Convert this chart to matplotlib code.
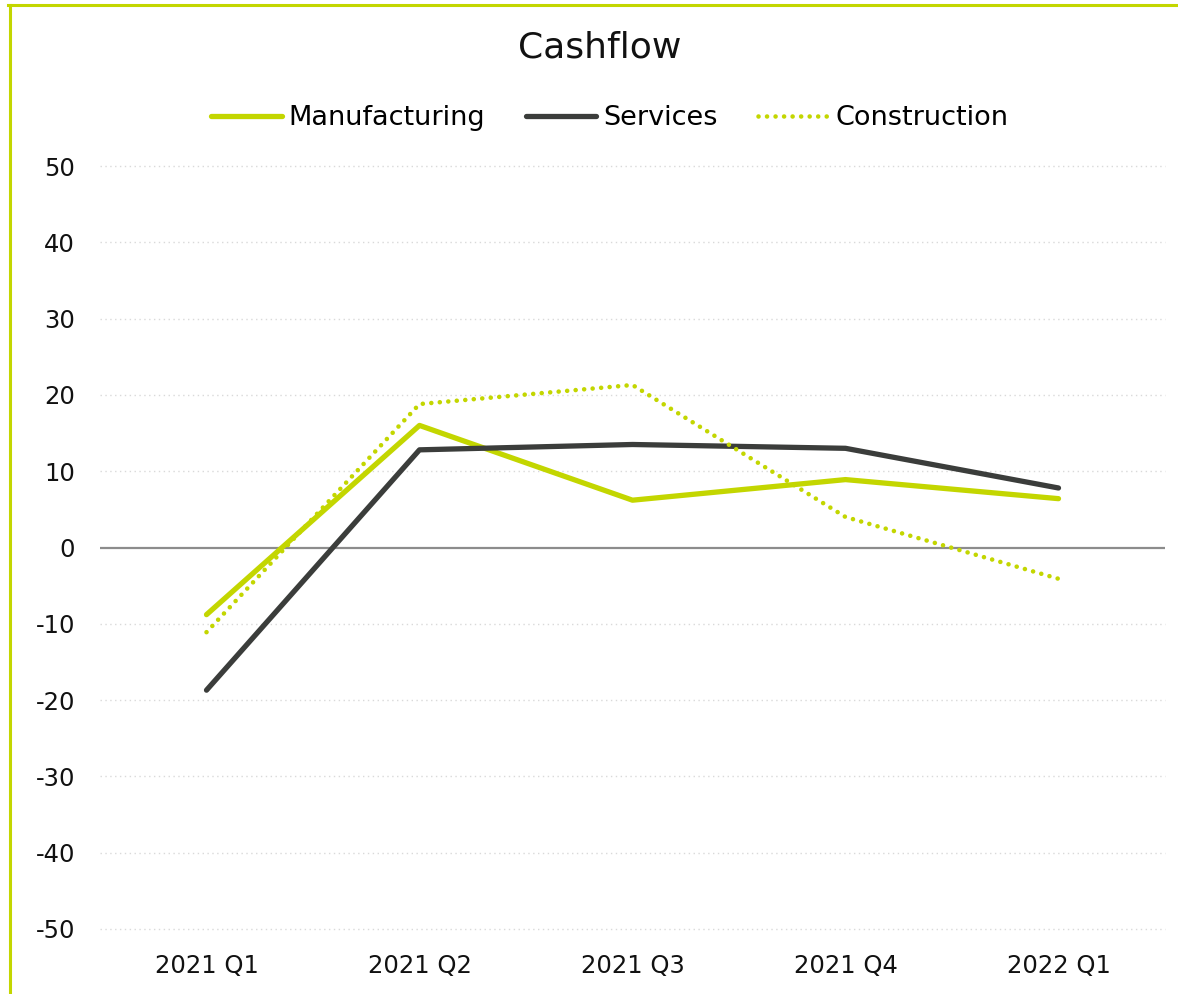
import matplotlib
matplotlib.use("Agg")
import matplotlib.pyplot as plt
from matplotlib.lines import Line2D

quarters = ["2021 Q1", "2021 Q2", "2021 Q3", "2021 Q4", "2022 Q1"]
manufacturing = [-8.8, 16.0, 6.2, 8.9, 6.4]
services = [-18.7, 12.8, 13.5, 13.0, 7.8]
construction = [-11.1, 18.8, 21.3, 4.0, -4.1]
y_ticks = [50, 40, 30, 20, 10, 0, -10, -20, -30, -40, -50]

GREEN = "#C3D600"
DARK = "#3B3D3B"

plt.rcParams["font.family"] = ["DejaVu Sans"]
plt.rcParams["axes.unicode_minus"] = False

W, H = 1178, 994
fig = plt.figure(figsize=(W / 100, H / 100), dpi=100)
fig.patch.set_facecolor("white")

# Frame accents along the top and left edges
fig.add_artist(Line2D([8 / W, 1], [1 - 4.5 / H, 1 - 4.5 / H], color=GREEN, lw=2.2,
                      transform=fig.transFigure))
fig.add_artist(Line2D([9.5 / W, 9.5 / W], [0, 1 - 4.5 / H], color=GREEN, lw=2.2,
                      transform=fig.transFigure))

left, right = 100 / W, 1165 / W
bottom, top = 1 - 929 / H, 1 - 166 / H
ax = fig.add_axes([left, bottom, right - left, top - bottom])

x = list(range(len(quarters)))
ax.plot(x, manufacturing, color=GREEN, lw=3.8, solid_capstyle="round",
        solid_joinstyle="round", label="Manufacturing", zorder=3)
ax.plot(x, services, color=DARK, lw=3.8, solid_capstyle="round",
        solid_joinstyle="round", label="Services", zorder=3)
ax.plot(x, construction, color=GREEN, lw=3.3, linestyle=(0, (0.01, 1.85)),
        dash_capstyle="round", label="Construction", zorder=3)

ax.set_xlim(-0.5, len(quarters) - 0.5)
ax.set_ylim(-50, 50)
ax.set_yticks(y_ticks)
ax.set_xticks(x)
ax.set_xticklabels(quarters)

for t in y_ticks:
    if t != 0:
        ax.axhline(t, color="#D9D9D9", lw=1.0, linestyle=(0, (1, 2.5)), zorder=1,
                   clip_on=False)
ax.axhline(0, color="#8C8C8C", lw=1.6, zorder=2)

for s in ax.spines.values():
    s.set_visible(False)
ax.tick_params(axis="both", length=0, labelsize=17.5, colors="#111111")
ax.tick_params(axis="y", pad=18)
ax.tick_params(axis="x", pad=18)

fig.text(600 / W, 1 - 47 / H, "Cashflow", ha="center", va="center", fontsize=26,
         color="#111111")

leg = fig.legend(loc="center", bbox_to_anchor=(610 / W, 1 - 118 / H), ncol=3,
                 frameon=False, fontsize=19.5, handlelength=2.6, handletextpad=0.26,
                 columnspacing=1.5)

fig.savefig("out.png", dpi=100, facecolor="white")
